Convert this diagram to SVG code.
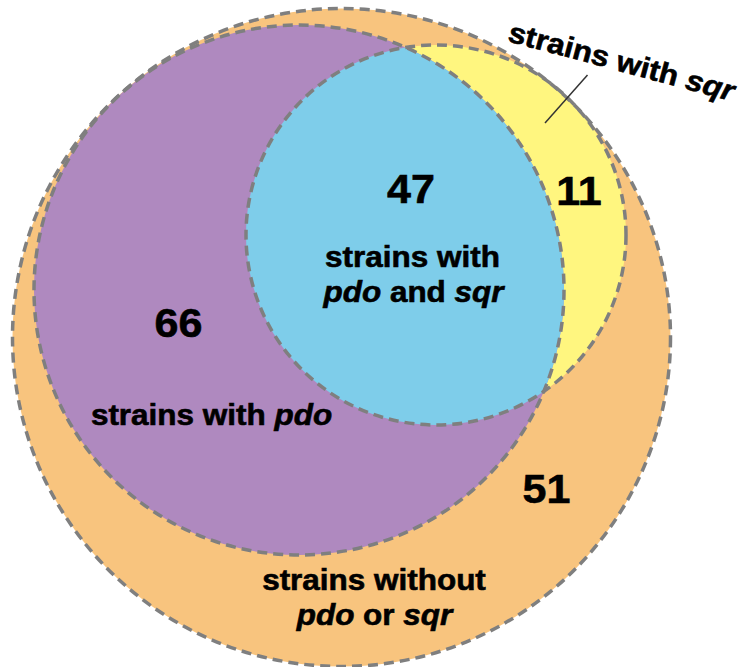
<svg xmlns="http://www.w3.org/2000/svg" width="741" height="667" viewBox="0 0 741 667">
<style>
.edge{fill:none;stroke:#7f7f7f;stroke-width:3.5;stroke-dasharray:10 6}
.lbl{font-family:"Liberation Sans",Arial,sans-serif;font-weight:bold;fill:#000;stroke:#000;stroke-width:0.6;font-size:29px;text-anchor:middle}
.num{font-family:"Liberation Sans",Arial,sans-serif;font-weight:bold;fill:#000;stroke:#000;stroke-width:0.6;font-size:41px;text-anchor:middle}
.it{font-style:italic}
.lead{stroke:#333;stroke-width:1.5;fill:none}
</style>
<defs>
<clipPath id="clipPdo"><circle cx="299" cy="290" r="265"/></clipPath>
</defs>
<g id="none">
<circle cx="341.5" cy="337.5" r="329" fill="#F8C47E"/>
</g>
<g id="sqr">
<circle cx="436" cy="235" r="190" fill="#FFF67F"/>
</g>
<g id="pdo">
<circle cx="299" cy="290" r="265" fill="#AF89BF"/>
</g>
<g id="both">
<circle cx="436" cy="235" r="190" fill="#7ECDEA" clip-path="url(#clipPdo)"/>
</g>
<g id="outlines">
<circle class="edge" cx="341.5" cy="337.5" r="329"/>
<circle class="edge" cx="436" cy="235" r="190"/>
<circle class="edge" cx="299" cy="290" r="265"/>
</g>
<g id="connectors">
<line class="lead" x1="545" y1="123" x2="587.5" y2="75"/>
</g>
<g id="label-both">
<text class="num" transform="translate(411,203) scale(1.05,1)">47</text>
<text class="lbl" transform="translate(412.5,267) scale(1.085,1)">strains with</text>
<text class="lbl" transform="translate(413.5,302) scale(1.085,1)"><tspan class="it">pdo</tspan> and <tspan class="it">sqr</tspan></text>
</g>
<g id="label-pdo">
<text class="num" transform="translate(178.5,337) scale(1.05,1)">66</text>
<text class="lbl" transform="translate(211.5,425) scale(1.085,1)">strains with <tspan class="it">pdo</tspan></text>
</g>
<g id="label-sqr">
<text class="num" transform="translate(579,205) scale(1.05,1)">11</text>
<text class="lbl" transform="translate(619,71) rotate(15) scale(1.085,1)">strains with <tspan class="it">sqr</tspan></text>
</g>
<g id="label-none">
<text class="num" transform="translate(546.5,503) scale(1.05,1)">51</text>
<text class="lbl" transform="translate(374,590) scale(1.085,1)">strains without</text>
<text class="lbl" transform="translate(374.5,625) scale(1.085,1)"><tspan class="it">pdo</tspan> or <tspan class="it">sqr</tspan></text>
</g>
</svg>
